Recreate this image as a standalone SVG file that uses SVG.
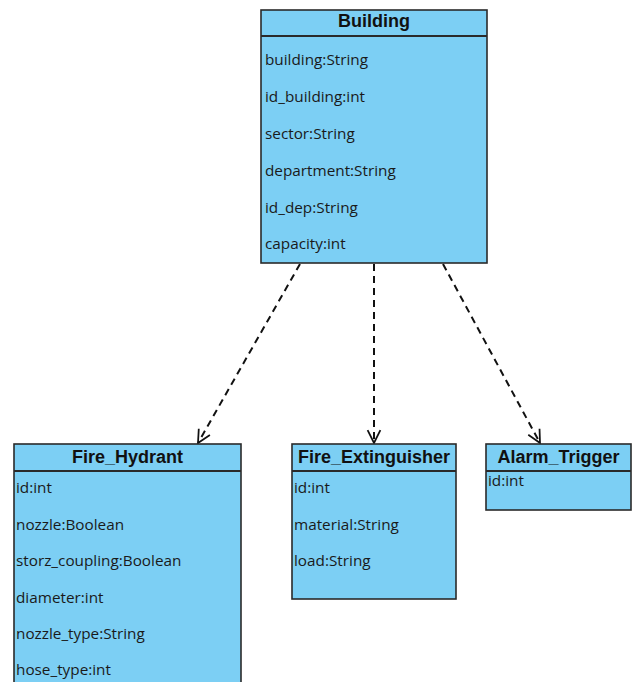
<svg xmlns="http://www.w3.org/2000/svg" width="632" height="682" viewBox="0 0 632 682">
  <style>
    .box { fill: #7ccff4; stroke: #2a2a2a; stroke-width: 1.6; }
    .sep { stroke: #2a2a2a; stroke-width: 2; }
    .title { font-family: "Liberation Sans", Arial, sans-serif; font-weight: bold; font-size: 18px; fill: #111; text-anchor: middle; }
    .attr { font-family: "Open Sans", "DejaVu Sans", sans-serif; font-size: 15.3px; fill: #1a1a1a; }
    .dep { fill: none; stroke: #111; stroke-width: 2; stroke-dasharray: 7 5; marker-end: url(#open); }
  </style>
  <defs>
    <marker id="open" viewBox="0 0 20 20" refX="18" refY="10" markerWidth="16" markerHeight="16" markerUnits="userSpaceOnUse" orient="auto">
      <path d="M2,2 L18,10 L2,18" fill="none" stroke="#111" stroke-width="2.2" stroke-dasharray="none"/>
    </marker>
  </defs>

  <rect width="632" height="682" fill="#ffffff"/>

  <g id="connectors">
    <line class="dep" x1="300" y1="264" x2="198" y2="443"/>
    <line class="dep" x1="374" y1="264" x2="374" y2="443"/>
    <line class="dep" x1="443" y1="264" x2="540" y2="443"/>
  </g>

  <g id="building">
    <rect class="box" x="261" y="10" width="226" height="253"/>
    <line class="sep" x1="261" y1="36" x2="487" y2="36"/>
    <text class="title" x="374" y="27">Building</text>
    <text class="attr" x="265" y="65">building:String</text>
    <text class="attr" x="265" y="102">id_building:int</text>
    <text class="attr" x="265" y="139">sector:String</text>
    <text class="attr" x="265" y="176">department:String</text>
    <text class="attr" x="265" y="213">id_dep:String</text>
    <text class="attr" x="265" y="249">capacity:int</text>
  </g>

  <g id="fire-hydrant">
    <rect class="box" x="14" y="444" width="227" height="250"/>
    <line class="sep" x1="14" y1="471" x2="241" y2="471"/>
    <text class="title" x="127.5" y="463">Fire_Hydrant</text>
    <text class="attr" x="16" y="493">id:int</text>
    <text class="attr" x="16" y="530">nozzle:Boolean</text>
    <text class="attr" x="16" y="566">storz_coupling:Boolean</text>
    <text class="attr" x="16" y="603">diameter:int</text>
    <text class="attr" x="16" y="639">nozzle_type:String</text>
    <text class="attr" x="16" y="675">hose_type:int</text>
  </g>

  <g id="fire-extinguisher">
    <rect class="box" x="292" y="444" width="164" height="155"/>
    <line class="sep" x1="292" y1="471" x2="456" y2="471"/>
    <text class="title" x="374" y="463">Fire_Extinguisher</text>
    <text class="attr" x="294" y="493">id:int</text>
    <text class="attr" x="294" y="530">material:String</text>
    <text class="attr" x="294" y="566">load:String</text>
  </g>

  <g id="alarm-trigger">
    <rect class="box" x="486" y="444" width="145" height="66"/>
    <line class="sep" x1="486" y1="471" x2="631" y2="471"/>
    <text class="title" x="558.5" y="463">Alarm_Trigger</text>
    <text class="attr" x="488" y="486">id:int</text>
  </g>
</svg>
